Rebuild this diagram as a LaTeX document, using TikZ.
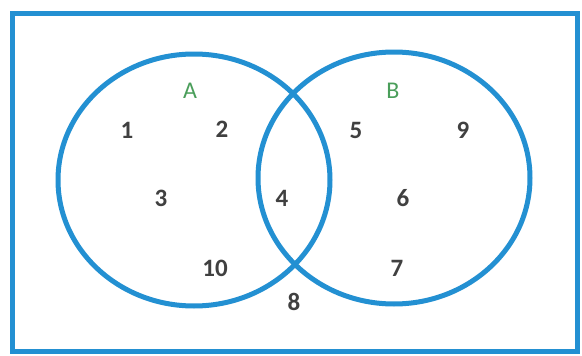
\documentclass[tikz,border=0pt]{standalone}
\usepackage{fontspec}
\setmainfont{Carlito}
\usepackage{xcolor}
\usetikzlibrary{shapes.geometric}
\definecolor{vennblue}{HTML}{2390D2}
\definecolor{setgreen}{HTML}{4A9E5A}
\definecolor{numgray}{HTML}{404040}

\begin{document}
\begin{tikzpicture}[
    x=1pt, y=-1pt,
    ring/.style={ellipse, draw=vennblue, line width=5pt, minimum width=272pt, minimum height=252pt},
    frame/.style={rectangle, draw=vennblue, line width=5pt, minimum width=565pt, minimum height=338pt},
    num/.style={text=numgray, font=\fontsize{25}{30}\selectfont\bfseries, inner sep=0pt},
    setname/.style={text=setgreen, font=\fontsize{24}{28}\selectfont, inner sep=0pt}
]
  \useasboundingbox (0,0) rectangle (582,356);
  \fill[white] (0,0) rectangle (582,356);

  \node[frame] (universe) at (294.5,182) {};
  \node[ring] (setA) at (194,180) {};
  \node[ring] (setB) at (394,178) {};

  \node[setname] (labA) at (190,91) {A};
  \node[setname] (labB) at (393,91) {B};

  % only in A
  \node[num] (n1) at (127,130) {1};
  \node[num] (n2) at (222,129) {2};
  \node[num] (n3) at (161,198) {3};
  \node[num] (n10) at (215,268) {10};
  % A and B
  \node[num] (n4) at (282,198) {4};
  % only in B
  \node[num] (n5) at (356,130) {5};
  \node[num] (n9) at (463,130) {9};
  \node[num] (n6) at (403,198) {6};
  \node[num] (n7) at (397,268) {7};
  % outside
  \node[num] (n8) at (294,302) {8};
\end{tikzpicture}
\end{document}
